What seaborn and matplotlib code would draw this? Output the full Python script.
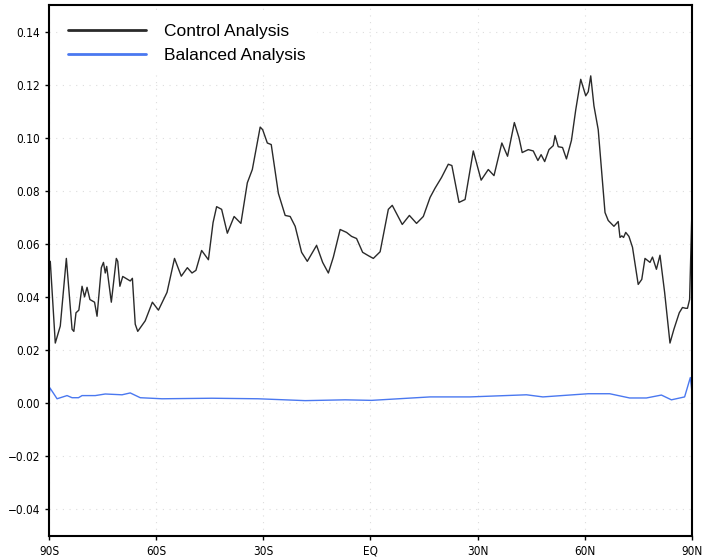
import pandas as pd
import matplotlib.pyplot as plt
import seaborn as sns

# control analysis: latitude / value pairs (10 per row)
ctrl_lat = [-90, -89.7, -88.3, -86.9, -85.2, -83.6, -83.1, -82.5, -81.7, -80.8,
            -80.1, -79.4, -78.6, -77.3, -76.6, -75.4, -74.8, -74.3, -73.9, -72.6,
            -71.2, -70.8, -70.2, -69.4, -67.3, -66.7, -65.9, -65.2, -63.1, -61.1,
            -59.4, -57.0, -54.9, -53.0, -51.3, -50.0, -48.9, -47.3, -45.4, -44.1,
            -43.1, -41.7, -40.1, -38.2, -36.3, -34.5, -33.1, -30.9, -30.2, -28.9,
            -27.8, -25.8, -23.9, -22.5, -21.1, -19.3, -17.7, -15.1, -13.4, -11.8,
            -10.4, -8.5, -6.7, -5.3, -3.9, -2.2, -0.3, 0.8, 2.7, 5.0,
            6.1, 8.9, 10.9, 12.9, 14.8, 16.7, 18.1, 19.9, 21.8, 22.8,
            24.8, 26.5, 28.8, 31.0, 33.0, 34.6, 36.8, 38.4, 40.3, 41.6,
            42.5, 44.2, 45.6, 46.9, 47.8, 48.8, 50.0, 51.2, 51.7, 52.6,
            53.8, 54.9, 56.3, 57.5, 58.9, 60.3, 61.0, 61.7, 62.6, 63.8,
            64.8, 65.7, 66.6, 68.2, 69.4, 69.9, 70.4, 70.9, 71.5, 72.4,
            73.4, 75.0, 76.0, 76.9, 78.3, 79.0, 80.1, 81.1, 82.4, 83.9,
            85.0, 86.5, 87.4, 88.3, 88.8, 89.4, 90]
ctrl_val = [0.050, 0.0534, 0.0226, 0.029, 0.0545, 0.0278, 0.027, 0.034, 0.035, 0.044,
            0.040, 0.0436, 0.039, 0.038, 0.0327, 0.051, 0.053, 0.049, 0.0515, 0.038,
            0.0545, 0.0534, 0.044, 0.0477, 0.046, 0.047, 0.0297, 0.027, 0.031, 0.038,
            0.035, 0.0417, 0.0545, 0.0478, 0.051, 0.049, 0.050, 0.0575, 0.054, 0.068,
            0.074, 0.073, 0.064, 0.0703, 0.0677, 0.083, 0.088, 0.104, 0.103, 0.098,
            0.0974, 0.079, 0.0707, 0.0703, 0.0666, 0.0568, 0.0534, 0.0594, 0.053, 0.049,
            0.055, 0.0654, 0.0643, 0.0628, 0.062, 0.0568, 0.0553, 0.0545, 0.057, 0.073,
            0.0745, 0.0673, 0.0707, 0.0677, 0.0703, 0.0775, 0.081, 0.085, 0.090, 0.0895,
            0.0756, 0.0767, 0.095, 0.084, 0.088, 0.0857, 0.098, 0.093, 0.1057, 0.100,
            0.0944, 0.0955, 0.095, 0.0914, 0.0936, 0.091, 0.0955, 0.097, 0.1008, 0.0966,
            0.0963, 0.092, 0.099, 0.1105, 0.122, 0.1158, 0.1173, 0.1233, 0.112, 0.103,
            0.0868, 0.0718, 0.0688, 0.0666, 0.0684, 0.0624, 0.063, 0.0624, 0.0643, 0.0628,
            0.0587, 0.0447, 0.0466, 0.0545, 0.053, 0.055, 0.0504, 0.0557, 0.0417, 0.0226,
            0.0278, 0.034, 0.036, 0.0357, 0.0357, 0.039, 0.070]

# balanced analysis
bal_lat = [-90, -89.8, -87.8, -85, -83.6, -81.8, -80.8, -77.1, -74.3, -69.6,
           -67.3, -64.5, -58.4, -44.4, -31.5, -18.3, -7.1, 0.3, 16.7, 27.9,
           43.7, 48.3, 61, 67, 72.6, 77.3, 81.5, 84.3, 88, 89.6, 90]
bal_val = [0.003, 0.0057, 0.0016, 0.0028, 0.002, 0.002, 0.0028, 0.0028, 0.0034, 0.0031,
           0.0038, 0.002, 0.0016, 0.0018, 0.0016, 0.0009, 0.0012, 0.001, 0.0023, 0.0023,
           0.0031, 0.0023, 0.0035, 0.0035, 0.0019, 0.0019, 0.003, 0.0012, 0.0023, 0.0096, 0.005]

xticks = [-90, -60, -30, 0, 30, 60, 90]
xlabels = ['90S', '60S', '30S', 'EQ', '30N', '60N', '90N']
yticks = [-0.04, -0.02, 0.00, 0.02, 0.04, 0.06, 0.08, 0.10, 0.12, 0.14]

ctrl = pd.DataFrame({'lat': ctrl_lat, 'val': ctrl_val})
bal = pd.DataFrame({'lat': bal_lat, 'val': bal_val})

sns.set_style('white')
plt.rcParams['font.family'] = ['DejaVu Sans']
plt.rcParams['text.color'] = 'black'

fig = plt.figure(figsize=(7.03, 5.58), dpi=100)
ax = fig.add_axes([0.070, 0.040, 0.914, 0.951])

ax.grid(True, linestyle=(0, (1, 5)), color='#dddddd', linewidth=0.8)
sns.lineplot(data=ctrl, x='lat', y='val', ax=ax, color='#2a2a2a', linewidth=1.0,
             label='Control Analysis')
sns.lineplot(data=bal, x='lat', y='val', ax=ax, color='#4a78f0', linewidth=1.0,
             label='Balanced Analysis')

ax.set_xlim(-90, 90)
ax.set_ylim(-0.05, 0.15)
ax.set_xticks(xticks)
ax.set_xticklabels(xlabels)
ax.set_yticks(yticks)
ax.set_yticklabels([f'{t:.2f}'.replace('-', '\u2212') for t in yticks])
ax.set_xlabel('')
ax.set_ylabel('')
ax.tick_params(axis='both', labelsize=8.5, length=3, width=1, direction='out',
               left=True, bottom=True, colors='black')
for lab in ax.get_xticklabels() + ax.get_yticklabels():
    lab.set_fontstretch('condensed')
for s in ax.spines.values():
    s.set_linewidth(1.5)
    s.set_color('black')

leg = ax.legend(loc='upper left', bbox_to_anchor=(0.0, 1.0), frameon=True,
                handlelength=4.5, handletextpad=1.0, labelspacing=0.5, borderpad=0.6,
                prop={'family': 'Liberation Sans', 'size': 12.5})
leg.get_frame().set_edgecolor('white')
leg.get_frame().set_facecolor('white')
leg.get_frame().set_alpha(1)
for line in leg.get_lines():
    line.set_linewidth(2)
for t in leg.get_texts():
    t.set_color('black')

fig.savefig('out.png', dpi=100)
